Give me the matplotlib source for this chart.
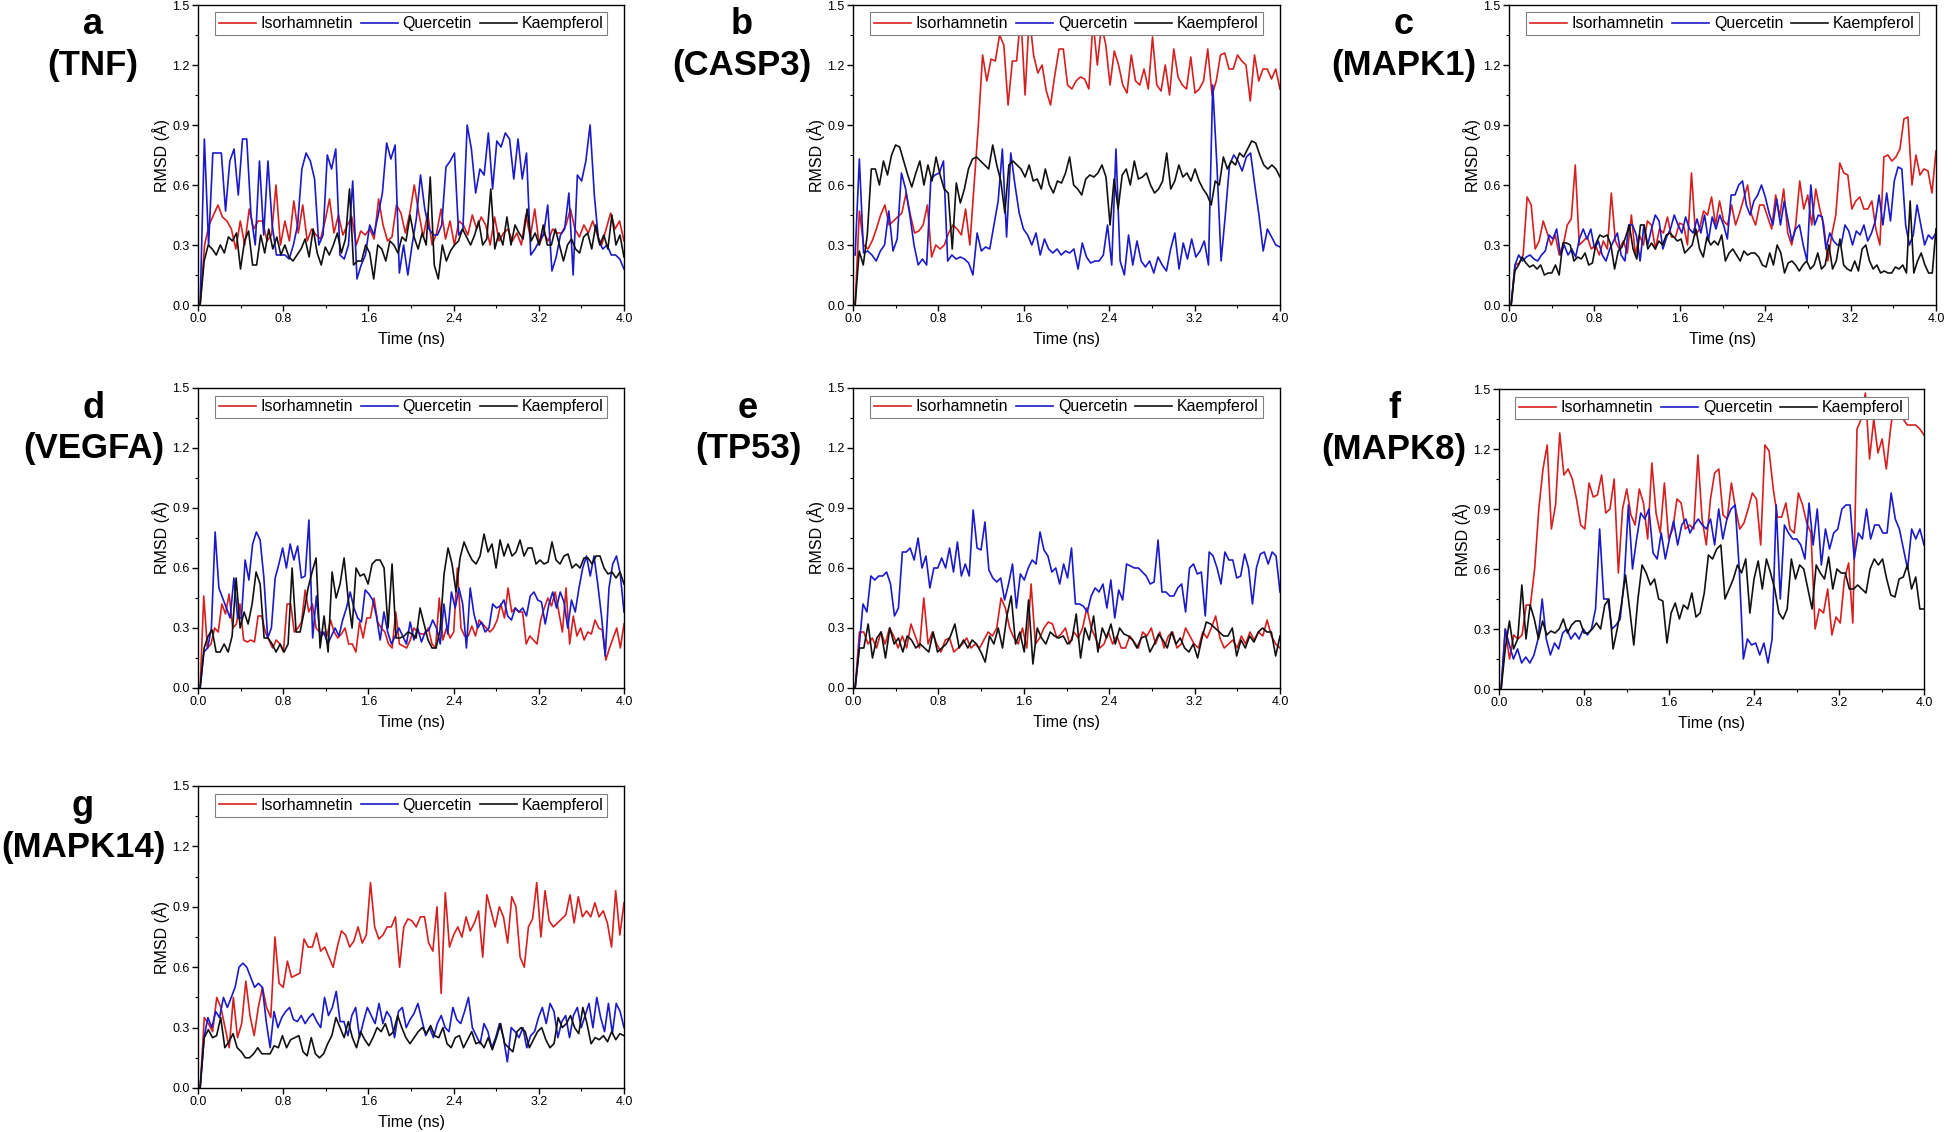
import matplotlib
matplotlib.use("Agg")
import matplotlib.pyplot as plt
from matplotlib.ticker import MultipleLocator, FormatStrFormatter
import numpy as np

plt.rcParams['font.family'] = ['Liberation Sans', 'DejaVu Sans']

W, H = 1952, 1132

# ---- data (RMSD, Angstrom) ----
compounds = ['Isorhamnetin', 'Quercetin', 'Kaempferol']
colors = ['#d42020', '#1a1ac8', '#111111']

# a (TNF)
tnf_iso = [0.0, 0.30, 0.40, 0.45, 0.50, 0.44, 0.42, 0.38, 0.28, 0.42, 0.30, 0.48, 0.38, 0.42, 0.42, 0.32,
           0.35, 0.60, 0.30, 0.42, 0.32, 0.52, 0.36, 0.50, 0.32, 0.38, 0.35, 0.33, 0.42, 0.53, 0.36, 0.45,
           0.35, 0.40, 0.44, 0.30, 0.37, 0.35, 0.38, 0.33, 0.53, 0.40, 0.32, 0.34, 0.50, 0.46, 0.36, 0.46,
           0.60, 0.46, 0.34, 0.46, 0.30, 0.36, 0.48, 0.33, 0.42, 0.30, 0.42, 0.40, 0.35, 0.45, 0.38, 0.44,
           0.40, 0.30, 0.44, 0.32, 0.36, 0.38, 0.32, 0.36, 0.30, 0.45, 0.34, 0.48, 0.30, 0.36, 0.32, 0.38,
           0.36, 0.36, 0.40, 0.48, 0.38, 0.34, 0.40, 0.36, 0.42, 0.35, 0.30, 0.38, 0.46, 0.38, 0.42, 0.32]
tnf_que = [0.0, 0.83, 0.30, 0.76, 0.76, 0.76, 0.47, 0.72, 0.78, 0.55, 0.83, 0.83, 0.45, 0.30, 0.72, 0.35,
           0.72, 0.40, 0.25, 0.25, 0.25, 0.23, 0.30, 0.40, 0.68, 0.76, 0.72, 0.63, 0.30, 0.35, 0.75, 0.68,
           0.78, 0.25, 0.23, 0.30, 0.62, 0.13, 0.20, 0.25, 0.40, 0.35, 0.45, 0.56, 0.81, 0.73, 0.80, 0.16,
           0.30, 0.15, 0.30, 0.43, 0.65, 0.48, 0.38, 0.35, 0.35, 0.40, 0.69, 0.72, 0.76, 0.35, 0.38, 0.90,
           0.78, 0.56, 0.68, 0.65, 0.86, 0.58, 0.82, 0.79, 0.86, 0.83, 0.63, 0.83, 0.63, 0.76, 0.25, 0.28,
           0.32, 0.35, 0.50, 0.17, 0.24, 0.35, 0.38, 0.56, 0.15, 0.65, 0.62, 0.72, 0.90, 0.55, 0.32, 0.28,
           0.30, 0.25, 0.25, 0.23, 0.18]
tnf_kae = [0.0, 0.22, 0.30, 0.28, 0.25, 0.30, 0.26, 0.34, 0.32, 0.36, 0.18, 0.32, 0.37, 0.20, 0.20, 0.35,
           0.26, 0.38, 0.28, 0.34, 0.25, 0.30, 0.24, 0.22, 0.25, 0.28, 0.33, 0.24, 0.38, 0.26, 0.20, 0.29,
           0.25, 0.30, 0.36, 0.26, 0.33, 0.58, 0.20, 0.22, 0.22, 0.30, 0.26, 0.13, 0.30, 0.28, 0.22, 0.32,
           0.30, 0.26, 0.34, 0.32, 0.45, 0.34, 0.28, 0.36, 0.30, 0.64, 0.20, 0.13, 0.30, 0.22, 0.27, 0.30,
           0.32, 0.38, 0.34, 0.30, 0.35, 0.42, 0.30, 0.33, 0.58, 0.28, 0.36, 0.30, 0.44, 0.30, 0.40, 0.36,
           0.33, 0.48, 0.32, 0.36, 0.30, 0.40, 0.30, 0.30, 0.38, 0.30, 0.22, 0.30, 0.33, 0.28, 0.26, 0.34,
           0.36, 0.28, 0.40, 0.30, 0.35, 0.28, 0.45, 0.30, 0.35, 0.24]

# b (CASP3)
casp3_iso = [0.0, 0.47, 0.30, 0.28, 0.32, 0.38, 0.45, 0.50, 0.40, 0.42, 0.44, 0.46, 0.56, 0.45, 0.36, 0.37,
             0.40, 0.50, 0.24, 0.30, 0.28, 0.30, 0.36, 0.40, 0.38, 0.35, 0.48, 0.30, 0.60, 0.90, 1.25, 1.12,
             1.23, 1.22, 1.35, 1.30, 1.00, 1.22, 1.22, 1.45, 1.05, 1.45, 1.25, 1.16, 1.20, 1.07, 1.00, 1.15,
             1.28, 1.28, 1.10, 1.08, 1.12, 1.14, 1.13, 1.08, 1.42, 1.20, 1.40, 1.30, 1.10, 1.27, 1.20, 1.10,
             1.06, 1.25, 1.12, 1.10, 1.18, 1.08, 1.34, 1.10, 1.07, 1.20, 1.05, 1.28, 1.14, 1.10, 1.08, 1.24,
             1.06, 1.08, 1.12, 1.28, 1.05, 1.12, 1.25, 1.26, 1.18, 1.18, 1.25, 1.22, 1.20, 1.02, 1.25, 1.12,
             1.18, 1.18, 1.13, 1.18, 1.08]
casp3_que = [0.25, 0.73, 0.26, 0.27, 0.25, 0.22, 0.27, 0.30, 0.47, 0.27, 0.33, 0.66, 0.58, 0.45, 0.30, 0.20,
             0.23, 0.20, 0.63, 0.65, 0.66, 0.72, 0.22, 0.25, 0.23, 0.24, 0.23, 0.21, 0.15, 0.36, 0.27, 0.29,
             0.28, 0.40, 0.52, 0.78, 0.34, 0.76, 0.60, 0.46, 0.38, 0.35, 0.30, 0.36, 0.25, 0.33, 0.28, 0.26,
             0.28, 0.25, 0.27, 0.26, 0.28, 0.18, 0.31, 0.24, 0.21, 0.22, 0.22, 0.25, 0.40, 0.20, 0.78, 0.22,
             0.15, 0.35, 0.20, 0.32, 0.22, 0.19, 0.22, 0.16, 0.24, 0.20, 0.17, 0.28, 0.36, 0.18, 0.31, 0.23,
             0.33, 0.24, 0.27, 0.32, 0.20, 1.10, 0.70, 0.22, 0.45, 0.70, 0.75, 0.72, 0.67, 0.74, 0.76, 0.60,
             0.45, 0.27, 0.38, 0.34, 0.30, 0.29]
casp3_kae = [0.0, 0.27, 0.20, 0.35, 0.68, 0.68, 0.60, 0.72, 0.65, 0.75, 0.80, 0.79, 0.72, 0.65, 0.59, 0.66,
             0.72, 0.60, 0.70, 0.62, 0.74, 0.65, 0.58, 0.56, 0.28, 0.61, 0.51, 0.58, 0.68, 0.73, 0.74, 0.72,
             0.70, 0.68, 0.80, 0.70, 0.62, 0.46, 0.70, 0.72, 0.70, 0.68, 0.64, 0.70, 0.62, 0.63, 0.58, 0.68,
             0.60, 0.56, 0.62, 0.61, 0.66, 0.74, 0.60, 0.58, 0.55, 0.63, 0.65, 0.64, 0.66, 0.70, 0.64, 0.40,
             0.63, 0.48, 0.65, 0.68, 0.60, 0.72, 0.63, 0.64, 0.66, 0.60, 0.56, 0.58, 0.62, 0.76, 0.58, 0.62,
             0.70, 0.64, 0.66, 0.62, 0.68, 0.62, 0.58, 0.55, 0.50, 0.62, 0.60, 0.74, 0.68, 0.72, 0.70, 0.76,
             0.74, 0.78, 0.82, 0.81, 0.75, 0.70, 0.68, 0.70, 0.68, 0.64]

# c (MAPK1)
mapk1_iso = [0.0, 0.20, 0.21, 0.25, 0.54, 0.50, 0.28, 0.32, 0.42, 0.36, 0.30, 0.35, 0.25, 0.30, 0.40, 0.43,
             0.70, 0.30, 0.32, 0.34, 0.28, 0.30, 0.25, 0.32, 0.28, 0.56, 0.32, 0.28, 0.32, 0.26, 0.45, 0.25,
             0.35, 0.30, 0.42, 0.40, 0.28, 0.38, 0.36, 0.44, 0.34, 0.34, 0.41, 0.40, 0.30, 0.66, 0.35, 0.38,
             0.47, 0.45, 0.54, 0.40, 0.52, 0.42, 0.40, 0.50, 0.40, 0.46, 0.53, 0.60, 0.45, 0.40, 0.50, 0.50,
             0.44, 0.38, 0.55, 0.44, 0.58, 0.36, 0.30, 0.40, 0.62, 0.48, 0.55, 0.40, 0.58, 0.48, 0.40, 0.22,
             0.35, 0.45, 0.71, 0.66, 0.65, 0.48, 0.52, 0.54, 0.48, 0.48, 0.52, 0.38, 0.30, 0.74, 0.75, 0.72,
             0.74, 0.78, 0.93, 0.94, 0.60, 0.75, 0.65, 0.68, 0.67, 0.56, 0.77]
mapk1_que = [0.0, 0.20, 0.25, 0.22, 0.24, 0.25, 0.23, 0.22, 0.25, 0.27, 0.35, 0.33, 0.38, 0.25, 0.30, 0.25,
             0.28, 0.24, 0.33, 0.38, 0.33, 0.38, 0.28, 0.32, 0.25, 0.22, 0.28, 0.32, 0.36, 0.25, 0.22, 0.40,
             0.40, 0.35, 0.22, 0.40, 0.30, 0.38, 0.45, 0.42, 0.28, 0.34, 0.38, 0.45, 0.40, 0.36, 0.44, 0.38,
             0.36, 0.43, 0.36, 0.45, 0.32, 0.44, 0.38, 0.45, 0.40, 0.33, 0.55, 0.55, 0.60, 0.62, 0.50, 0.45,
             0.52, 0.55, 0.60, 0.54, 0.46, 0.40, 0.53, 0.40, 0.52, 0.42, 0.32, 0.38, 0.40, 0.30, 0.22, 0.60,
             0.40, 0.45, 0.44, 0.28, 0.36, 0.32, 0.30, 0.30, 0.40, 0.37, 0.30, 0.37, 0.35, 0.40, 0.32, 0.36,
             0.42, 0.55, 0.40, 0.56, 0.42, 0.62, 0.69, 0.68, 0.40, 0.30, 0.35, 0.50, 0.40, 0.30, 0.35, 0.33,
             0.36]
mapk1_kae = [0.0, 0.17, 0.20, 0.24, 0.21, 0.19, 0.20, 0.18, 0.20, 0.15, 0.16, 0.16, 0.20, 0.15, 0.31, 0.31,
             0.30, 0.22, 0.24, 0.23, 0.26, 0.20, 0.21, 0.31, 0.35, 0.34, 0.35, 0.30, 0.18, 0.27, 0.29, 0.34,
             0.40, 0.28, 0.23, 0.40, 0.40, 0.28, 0.31, 0.28, 0.32, 0.30, 0.35, 0.36, 0.34, 0.32, 0.33, 0.26,
             0.28, 0.30, 0.38, 0.28, 0.24, 0.34, 0.30, 0.32, 0.30, 0.35, 0.22, 0.26, 0.28, 0.25, 0.22, 0.27,
             0.25, 0.26, 0.26, 0.24, 0.20, 0.19, 0.26, 0.20, 0.30, 0.26, 0.16, 0.21, 0.22, 0.20, 0.17, 0.20,
             0.22, 0.18, 0.20, 0.26, 0.18, 0.20, 0.30, 0.18, 0.22, 0.33, 0.20, 0.18, 0.17, 0.22, 0.17, 0.28,
             0.30, 0.22, 0.18, 0.20, 0.16, 0.17, 0.16, 0.16, 0.19, 0.18, 0.20, 0.16, 0.52, 0.16, 0.22, 0.26,
             0.20, 0.16, 0.16, 0.38]

# d (VEGFA)
vegfa_iso = [0.0, 0.46, 0.20, 0.22, 0.30, 0.28, 0.42, 0.37, 0.47, 0.30, 0.32, 0.42, 0.24, 0.23, 0.24, 0.23,
             0.36, 0.36, 0.28, 0.24, 0.20, 0.24, 0.22, 0.18, 0.42, 0.42, 0.28, 0.30, 0.33, 0.49, 0.38, 0.42,
             0.30, 0.28, 0.27, 0.26, 0.34, 0.28, 0.25, 0.27, 0.30, 0.22, 0.22, 0.18, 0.33, 0.25, 0.35, 0.35,
             0.45, 0.33, 0.30, 0.28, 0.22, 0.20, 0.38, 0.22, 0.21, 0.20, 0.24, 0.30, 0.28, 0.27, 0.27, 0.30,
             0.22, 0.20, 0.45, 0.24, 0.30, 0.25, 0.28, 0.60, 0.30, 0.26, 0.26, 0.31, 0.26, 0.34, 0.32, 0.30,
             0.28, 0.30, 0.34, 0.42, 0.35, 0.50, 0.38, 0.40, 0.38, 0.38, 0.22, 0.26, 0.24, 0.22, 0.34, 0.40,
             0.45, 0.41, 0.48, 0.38, 0.28, 0.50, 0.22, 0.36, 0.26, 0.30, 0.24, 0.28, 0.27, 0.34, 0.30, 0.29,
             0.14, 0.20, 0.25, 0.30, 0.20, 0.32]
vegfa_que = [0.0, 0.18, 0.20, 0.30, 0.78, 0.50, 0.45, 0.40, 0.35, 0.55, 0.35, 0.35, 0.64, 0.54, 0.72, 0.78,
             0.74, 0.55, 0.25, 0.30, 0.55, 0.62, 0.70, 0.60, 0.72, 0.64, 0.71, 0.55, 0.56, 0.84, 0.25, 0.46,
             0.25, 0.28, 0.22, 0.26, 0.30, 0.26, 0.34, 0.40, 0.48, 0.40, 0.35, 0.33, 0.49, 0.47, 0.44, 0.36,
             0.24, 0.38, 0.28, 0.22, 0.26, 0.30, 0.26, 0.22, 0.33, 0.24, 0.30, 0.23, 0.28, 0.29, 0.34, 0.30,
             0.22, 0.42, 0.27, 0.48, 0.40, 0.50, 0.42, 0.20, 0.50, 0.37, 0.30, 0.33, 0.28, 0.30, 0.42, 0.40,
             0.41, 0.44, 0.36, 0.34, 0.40, 0.38, 0.40, 0.36, 0.46, 0.48, 0.44, 0.43, 0.32, 0.42, 0.48, 0.40,
             0.48, 0.43, 0.30, 0.44, 0.38, 0.50, 0.60, 0.66, 0.56, 0.66, 0.52, 0.36, 0.16, 0.50, 0.62, 0.66,
             0.57, 0.38]
vegfa_kae = [0.0, 0.20, 0.26, 0.29, 0.18, 0.18, 0.22, 0.18, 0.26, 0.55, 0.30, 0.38, 0.32, 0.42, 0.58, 0.52,
             0.25, 0.25, 0.22, 0.18, 0.22, 0.18, 0.22, 0.60, 0.28, 0.28, 0.38, 0.50, 0.58, 0.65, 0.20, 0.36,
             0.18, 0.58, 0.45, 0.52, 0.65, 0.45, 0.30, 0.60, 0.56, 0.57, 0.52, 0.62, 0.64, 0.64, 0.60, 0.30,
             0.62, 0.25, 0.25, 0.26, 0.28, 0.27, 0.25, 0.40, 0.32, 0.24, 0.20, 0.20, 0.29, 0.57, 0.70, 0.62,
             0.48, 0.65, 0.73, 0.68, 0.64, 0.62, 0.66, 0.77, 0.68, 0.72, 0.60, 0.74, 0.66, 0.72, 0.66, 0.68,
             0.74, 0.66, 0.70, 0.70, 0.62, 0.64, 0.62, 0.63, 0.73, 0.64, 0.62, 0.66, 0.67, 0.60, 0.62, 0.60,
             0.65, 0.65, 0.62, 0.66, 0.66, 0.60, 0.57, 0.58, 0.55, 0.58, 0.52]

# e (TP53)
tp53_iso = [0.0, 0.28, 0.28, 0.22, 0.25, 0.20, 0.28, 0.22, 0.30, 0.26, 0.20, 0.26, 0.20, 0.32, 0.26, 0.20,
            0.45, 0.22, 0.28, 0.22, 0.18, 0.24, 0.25, 0.18, 0.20, 0.22, 0.25, 0.20, 0.22, 0.20, 0.24, 0.28,
            0.26, 0.30, 0.45, 0.40, 0.30, 0.25, 0.22, 0.30, 0.20, 0.52, 0.22, 0.25, 0.30, 0.33, 0.32, 0.25,
            0.27, 0.30, 0.22, 0.28, 0.25, 0.30, 0.40, 0.30, 0.25, 0.20, 0.22, 0.28, 0.22, 0.26, 0.20, 0.20,
            0.26, 0.23, 0.20, 0.28, 0.26, 0.30, 0.22, 0.28, 0.20, 0.26, 0.28, 0.20, 0.22, 0.30, 0.26, 0.22,
            0.20, 0.28, 0.25, 0.30, 0.36, 0.25, 0.20, 0.22, 0.24, 0.20, 0.26, 0.22, 0.28, 0.24, 0.28, 0.26,
            0.34, 0.26, 0.22, 0.20]
tp53_que = [0.0, 0.20, 0.42, 0.38, 0.56, 0.54, 0.56, 0.56, 0.58, 0.52, 0.36, 0.40, 0.68, 0.68, 0.70, 0.64,
            0.75, 0.60, 0.66, 0.50, 0.60, 0.60, 0.65, 0.60, 0.70, 0.58, 0.73, 0.56, 0.62, 0.56, 0.89, 0.70,
            0.69, 0.83, 0.59, 0.55, 0.53, 0.55, 0.44, 0.52, 0.62, 0.40, 0.57, 0.54, 0.60, 0.64, 0.62, 0.78,
            0.69, 0.66, 0.58, 0.60, 0.52, 0.62, 0.55, 0.70, 0.42, 0.42, 0.41, 0.38, 0.46, 0.50, 0.48, 0.52,
            0.40, 0.54, 0.35, 0.49, 0.44, 0.62, 0.61, 0.60, 0.60, 0.58, 0.56, 0.52, 0.53, 0.74, 0.48, 0.48,
            0.46, 0.46, 0.50, 0.52, 0.38, 0.60, 0.62, 0.57, 0.58, 0.36, 0.68, 0.66, 0.60, 0.52, 0.68, 0.64,
            0.64, 0.55, 0.56, 0.67, 0.60, 0.42, 0.60, 0.67, 0.68, 0.62, 0.68, 0.66, 0.48]
tp53_kae = [0.0, 0.20, 0.20, 0.32, 0.15, 0.25, 0.28, 0.15, 0.30, 0.22, 0.25, 0.18, 0.26, 0.24, 0.20, 0.22,
            0.20, 0.18, 0.28, 0.18, 0.20, 0.22, 0.26, 0.32, 0.20, 0.24, 0.20, 0.24, 0.22, 0.18, 0.13, 0.26,
            0.22, 0.30, 0.20, 0.36, 0.46, 0.22, 0.28, 0.18, 0.44, 0.12, 0.30, 0.25, 0.22, 0.28, 0.26, 0.25,
            0.26, 0.22, 0.24, 0.37, 0.15, 0.30, 0.24, 0.36, 0.18, 0.30, 0.25, 0.32, 0.22, 0.30, 0.27, 0.26,
            0.24, 0.20, 0.25, 0.26, 0.18, 0.22, 0.27, 0.24, 0.20, 0.28, 0.22, 0.25, 0.20, 0.18, 0.22, 0.15,
            0.25, 0.33, 0.32, 0.30, 0.28, 0.26, 0.26, 0.30, 0.16, 0.24, 0.20, 0.26, 0.23, 0.28, 0.30, 0.28,
            0.28, 0.16, 0.26]

# f (MAPK8)
mapk8_iso = [0.0, 0.30, 0.15, 0.27, 0.25, 0.27, 0.42, 0.42, 0.60, 0.90, 1.10, 1.22, 0.80, 0.92, 1.28, 1.07,
             1.10, 1.05, 0.95, 0.82, 0.80, 1.03, 0.96, 0.97, 1.07, 0.88, 0.90, 1.05, 0.58, 0.90, 1.00, 0.87,
             0.82, 1.00, 0.93, 0.75, 1.13, 0.88, 0.78, 1.03, 0.75, 0.80, 0.95, 0.93, 0.80, 0.82, 0.80, 1.17,
             0.85, 0.72, 0.95, 1.08, 1.10, 0.87, 0.85, 1.03, 0.90, 0.80, 0.83, 0.90, 0.98, 0.95, 0.72, 1.22,
             1.19, 1.00, 0.86, 0.86, 0.93, 0.80, 0.78, 0.98, 0.92, 0.83, 0.78, 0.30, 0.40, 0.38, 0.50, 0.27,
             0.36, 0.33, 0.55, 0.63, 0.33, 1.30, 1.35, 1.48, 1.15, 1.35, 1.18, 1.25, 1.10, 1.30, 1.45, 1.42,
             1.35, 1.32, 1.32, 1.32, 1.30, 1.27]
mapk8_que = [0.0, 0.30, 0.22, 0.15, 0.20, 0.13, 0.16, 0.13, 0.17, 0.25, 0.45, 0.25, 0.17, 0.23, 0.20, 0.28,
             0.30, 0.25, 0.28, 0.25, 0.30, 0.27, 0.30, 0.40, 0.80, 0.45, 0.45, 0.30, 0.32, 0.35, 0.55, 0.92,
             0.60, 0.75, 0.88, 0.85, 0.90, 0.68, 0.65, 0.78, 0.65, 0.75, 0.84, 0.72, 0.82, 0.85, 0.78, 0.82,
             0.85, 0.82, 0.80, 0.85, 0.72, 0.90, 0.75, 0.85, 0.90, 0.92, 0.60, 0.15, 0.25, 0.22, 0.23, 0.17,
             0.23, 0.13, 0.25, 0.92, 0.45, 0.82, 0.78, 0.75, 0.75, 0.72, 0.65, 0.93, 0.72, 0.90, 0.62, 0.80,
             0.70, 0.78, 0.80, 0.90, 0.92, 0.92, 0.65, 0.78, 0.75, 0.90, 0.75, 0.82, 0.82, 0.78, 0.78, 0.98,
             0.85, 0.80, 0.70, 0.60, 0.80, 0.75, 0.80, 0.72]
mapk8_kae = [0.0, 0.20, 0.34, 0.20, 0.25, 0.52, 0.25, 0.42, 0.35, 0.25, 0.34, 0.27, 0.29, 0.28, 0.30, 0.35,
             0.28, 0.32, 0.34, 0.34, 0.28, 0.28, 0.30, 0.33, 0.30, 0.42, 0.45, 0.20, 0.30, 0.42, 0.57, 0.40,
             0.22, 0.45, 0.62, 0.58, 0.52, 0.55, 0.45, 0.44, 0.23, 0.38, 0.43, 0.35, 0.42, 0.40, 0.48, 0.36,
             0.38, 0.48, 0.67, 0.65, 0.70, 0.72, 0.45, 0.50, 0.55, 0.62, 0.58, 0.65, 0.38, 0.55, 0.64, 0.50,
             0.65, 0.58, 0.50, 0.38, 0.35, 0.40, 0.65, 0.55, 0.62, 0.60, 0.50, 0.40, 0.62, 0.58, 0.55, 0.66,
             0.50, 0.60, 0.58, 0.58, 0.50, 0.50, 0.52, 0.50, 0.48, 0.60, 0.65, 0.62, 0.65, 0.55, 0.47, 0.46,
             0.55, 0.56, 0.62, 0.50, 0.56, 0.40, 0.40]

# g (MAPK14)
mapk14_iso = [0.0, 0.35, 0.32, 0.28, 0.45, 0.40, 0.30, 0.20, 0.45, 0.25, 0.32, 0.53, 0.36, 0.26, 0.40, 0.50,
              0.40, 0.35, 0.75, 0.52, 0.50, 0.63, 0.55, 0.56, 0.57, 0.74, 0.70, 0.70, 0.77, 0.68, 0.70, 0.65,
              0.60, 0.70, 0.78, 0.76, 0.70, 0.73, 0.80, 0.72, 0.76, 1.02, 0.80, 0.74, 0.76, 0.80, 0.80, 0.85,
              0.60, 0.80, 0.84, 0.83, 0.80, 0.85, 0.85, 0.72, 0.68, 0.90, 0.47, 0.97, 0.70, 0.76, 0.80, 0.75,
              0.85, 0.78, 0.82, 0.88, 0.65, 0.96, 0.88, 0.80, 0.90, 0.85, 0.72, 0.95, 0.90, 0.65, 0.60, 0.80,
              0.84, 1.02, 0.75, 0.98, 0.83, 0.80, 0.82, 0.84, 0.86, 0.96, 0.82, 0.95, 0.85, 0.88, 0.85, 0.92,
              0.85, 0.88, 0.82, 0.70, 0.98, 0.76, 0.92]
mapk14_que = [0.0, 0.25, 0.35, 0.30, 0.38, 0.35, 0.45, 0.40, 0.45, 0.50, 0.60, 0.62, 0.60, 0.55, 0.50, 0.52,
              0.50, 0.33, 0.20, 0.38, 0.30, 0.35, 0.38, 0.40, 0.34, 0.33, 0.36, 0.32, 0.35, 0.37, 0.33, 0.30,
              0.45, 0.36, 0.40, 0.48, 0.33, 0.33, 0.26, 0.36, 0.40, 0.25, 0.33, 0.40, 0.36, 0.32, 0.42, 0.32,
              0.38, 0.35, 0.25, 0.38, 0.40, 0.30, 0.34, 0.37, 0.42, 0.34, 0.26, 0.30, 0.25, 0.32, 0.36, 0.30,
              0.28, 0.40, 0.34, 0.32, 0.38, 0.45, 0.30, 0.26, 0.22, 0.32, 0.28, 0.20, 0.25, 0.32, 0.25, 0.13,
              0.30, 0.28, 0.25, 0.30, 0.20, 0.26, 0.28, 0.35, 0.40, 0.32, 0.42, 0.38, 0.25, 0.33, 0.36, 0.25,
              0.36, 0.40, 0.30, 0.36, 0.42, 0.30, 0.45, 0.35, 0.28, 0.42, 0.27, 0.42, 0.38, 0.30]
mapk14_kae = [0.0, 0.25, 0.29, 0.25, 0.26, 0.35, 0.20, 0.23, 0.27, 0.20, 0.18, 0.15, 0.15, 0.17, 0.20, 0.17,
              0.17, 0.17, 0.21, 0.20, 0.26, 0.20, 0.24, 0.25, 0.26, 0.18, 0.16, 0.25, 0.17, 0.15, 0.17, 0.22,
              0.26, 0.35, 0.30, 0.25, 0.33, 0.25, 0.20, 0.28, 0.24, 0.21, 0.25, 0.30, 0.28, 0.32, 0.26, 0.28,
              0.36, 0.30, 0.25, 0.22, 0.25, 0.28, 0.30, 0.27, 0.31, 0.26, 0.25, 0.30, 0.22, 0.20, 0.25, 0.26,
              0.20, 0.24, 0.28, 0.22, 0.23, 0.20, 0.25, 0.19, 0.25, 0.32, 0.22, 0.20, 0.18, 0.28, 0.30, 0.28,
              0.20, 0.24, 0.28, 0.30, 0.24, 0.20, 0.22, 0.35, 0.30, 0.32, 0.36, 0.30, 0.27, 0.40, 0.32, 0.22,
              0.25, 0.24, 0.26, 0.23, 0.28, 0.24, 0.27, 0.26]

panels = [
    ('a', '(TNF)', [tnf_iso, tnf_que, tnf_kae]),
    ('b', '(CASP3)', [casp3_iso, casp3_que, casp3_kae]),
    ('c', '(MAPK1)', [mapk1_iso, mapk1_que, mapk1_kae]),
    ('d', '(VEGFA)', [vegfa_iso, vegfa_que, vegfa_kae]),
    ('e', '(TP53)', [tp53_iso, tp53_que, tp53_kae]),
    ('f', '(MAPK8)', [mapk8_iso, mapk8_que, mapk8_kae]),
    ('g', '(MAPK14)', [mapk14_iso, mapk14_que, mapk14_kae]),
]

# axes boxes in pixels: left, top, right, bottom ; label centre x
boxes = [
    (198, 5, 624, 305, 93),
    (853, 5, 1280, 305, 742),
    (1509, 5, 1936, 305, 1404),
    (198, 388, 624, 688, 94),
    (853, 388, 1280, 688, 748),
    (1499, 389, 1924, 689, 1394),
    (198, 786, 624, 1088, 83),
]

fig = plt.figure(figsize=(W / 100, H / 100), dpi=100)

for (letter, target, series), (l, t, r, b, lx) in zip(panels, boxes):
    ax = fig.add_axes([l / W, 1 - b / H, (r - l) / W, (b - t) / H])
    for vals, name, c in zip(series, compounds, colors):
        tt = np.linspace(0.02, 4.0, len(vals))
        ax.plot(tt, vals, color=c, lw=1.2, label=name)
    ax.set_xlim(0, 4.0)
    ax.set_ylim(0, 1.5)
    ax.xaxis.set_major_locator(MultipleLocator(0.8))
    ax.xaxis.set_minor_locator(MultipleLocator(0.4))
    ax.yaxis.set_major_locator(MultipleLocator(0.3))
    ax.yaxis.set_minor_locator(MultipleLocator(0.15))
    ax.xaxis.set_major_formatter(FormatStrFormatter('%.1f'))
    ax.yaxis.set_major_formatter(FormatStrFormatter('%.1f'))
    ax.tick_params(which='major', direction='out', length=4, width=1, labelsize=9, pad=2)
    ax.tick_params(which='minor', direction='out', length=2.5, width=0.8)
    for s in ax.spines.values():
        s.set_linewidth(1.0)
    ax.set_xlabel('Time (ns)', fontsize=11.5, labelpad=5)
    ax.set_ylabel('RMSD (Å)', fontsize=11.5, labelpad=2)
    leg = ax.legend(loc='upper center', bbox_to_anchor=(0.5, 0.975), ncol=3, fontsize=11.5,
                    frameon=True, fancybox=False, edgecolor='#808080', framealpha=1,
                    handlelength=2.3, handletextpad=0.3, columnspacing=0.5,
                    borderpad=0.25, borderaxespad=0)
    leg.get_frame().set_linewidth(0.8)
    # panel letter and target name
    fig.text(lx / W, 1 - (t + 20) / H, letter, fontsize=26, fontweight='bold',
             ha='center', va='center')
    fig.text(lx / W, 1 - (t + 61) / H, target, fontsize=25, fontweight='bold',
             ha='center', va='center')

fig.savefig('out.png', dpi=100)
